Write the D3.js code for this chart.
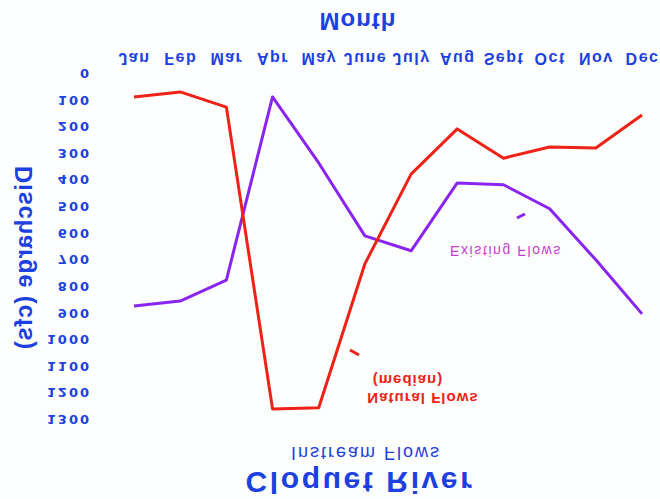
<!DOCTYPE html>
<html>
<head>
<meta charset="utf-8">
<script src="https://cdn.jsdelivr.net/npm/d3@7"></script>
<style>
  html, body { margin: 0; padding: 0; background: #fdfefe; }
  svg { display: block; font-family: "Liberation Sans", Arial, sans-serif; }
</style>
</head>
<body>
<div id="area"></div>
<script>
// the reference is a scan printed upside down, so every text is flipped vertically
let months = ['Jan', 'Feb', 'Mar', 'Apr', 'May', 'June', 'July', 'Aug', 'Sept', 'Oct', 'Nov', 'Dec']
let natural_flows = [90, 71, 128, 1262, 1258, 717, 380, 210, 320, 278, 282, 158]
let existing_flows = [875, 857, 778, 90, 338, 612, 668, 413, 420, 510, 702, 905]
let y_ticks = [0, 100, 200, 300, 400, 500, 600, 700, 800, 900, 1000, 1100, 1200, 1300]

let width = 660
let height = 499
let text_blue = '#1d40e0'
let natural_color = '#ee2216'
let existing_color = '#8a24f0'
let existing_label_color = '#c83ad0'

let svg = d3.select('#area').append('svg')
  .attr('width', width)
  .attr('height', height)

let x = d3.scalePoint().domain(months).range([134, 642])
let y = d3.scaleLinear().domain([0, 1300]).range([73, 419])

// flipped text centred on (cx, cy)
function flipText(cx, cy, txt, size, color, weight, spacing) {
  return svg.append('text')
    .attr('transform', 'translate(' + cx + ',' + cy + ') scale(1,-1)')
    .attr('text-anchor', 'middle')
    .attr('dominant-baseline', 'central')
    .attr('font-size', size)
    .attr('font-weight', weight || 'normal')
    .attr('letter-spacing', spacing || 0)
    .attr('fill', color)
    .text(txt)
}

// y axis labels only
let yAxis = svg.append('g')
  .attr('transform', 'translate(91,0)')
  .call(d3.axisLeft(y).tickValues(y_ticks).tickFormat(d3.format('d')).tickSize(0).tickPadding(0))
yAxis.select('.domain').remove()
yAxis.selectAll('text')
  .attr('dy', null)
  .attr('dominant-baseline', 'central')
  .attr('transform', 'scale(1,-1)')
  .attr('font-size', 13)
  .attr('font-weight', 'bold')
  .attr('letter-spacing', 2)
  .attr('font-family', '"DejaVu Sans", sans-serif')
  .attr('fill', text_blue)

// month labels along the top
let xAxis = svg.append('g')
  .attr('transform', 'translate(0,58)')
  .call(d3.axisBottom(x).tickSize(0).tickPadding(0))
xAxis.select('.domain').remove()
xAxis.selectAll('text')
  .attr('dy', null)
  .attr('y', 0)
  .attr('dominant-baseline', 'central')
  .attr('transform', 'scale(1,-1)')
  .attr('font-size', 16)
  .attr('font-weight', 'bold')
  .attr('letter-spacing', 1.5)
  .attr('font-family', '"Liberation Sans", Arial, sans-serif')
  .attr('fill', text_blue)

let line = d3.line()
  .x(function(d, i) { return x(months[i]) })
  .y(function(d) { return y(d) })

svg.append('path')
  .datum(existing_flows)
  .attr('d', line)
  .attr('fill', 'none')
  .attr('stroke', existing_color)
  .attr('stroke-width', 3)
  .attr('stroke-linejoin', 'round')

svg.append('path')
  .datum(natural_flows)
  .attr('d', line)
  .attr('fill', 'none')
  .attr('stroke', natural_color)
  .attr('stroke-width', 3)
  .attr('stroke-linejoin', 'round')

// little pointer marks next to the labels
svg.append('path')
  .attr('d', 'M350,350 L359,355')
  .attr('stroke', natural_color)
  .attr('stroke-width', 3)
svg.append('path')
  .attr('d', 'M517,218 L525,214')
  .attr('stroke', existing_color)
  .attr('stroke-width', 3)

// series labels
flipText(506, 251, 'Existing Flows', 14, existing_label_color, 'normal', 1.6)
flipText(423, 398, 'Natural Flows', 15, natural_color, 'bold', 1)
flipText(408, 380, '(median)', 15, natural_color, 'bold', 1)

// titles
flipText(358, 21, 'Month', 24, text_blue, 'bold', 1)
flipText(366, 453, 'Instream Flows', 18, text_blue, 'normal', 2)
flipText(360, 482, 'Cloquet River', 30, text_blue, 'bold', 2.6)

svg.append('text')
  .attr('transform', 'translate(23,258) scale(1,-1) rotate(-90)')
  .attr('text-anchor', 'middle')
  .attr('dominant-baseline', 'central')
  .attr('font-size', 24)
  .attr('font-weight', 'bold')
  .attr('letter-spacing', 0.7)
  .attr('fill', text_blue)
  .text('Discharge (cfs)')
</script>
</body>
</html>
